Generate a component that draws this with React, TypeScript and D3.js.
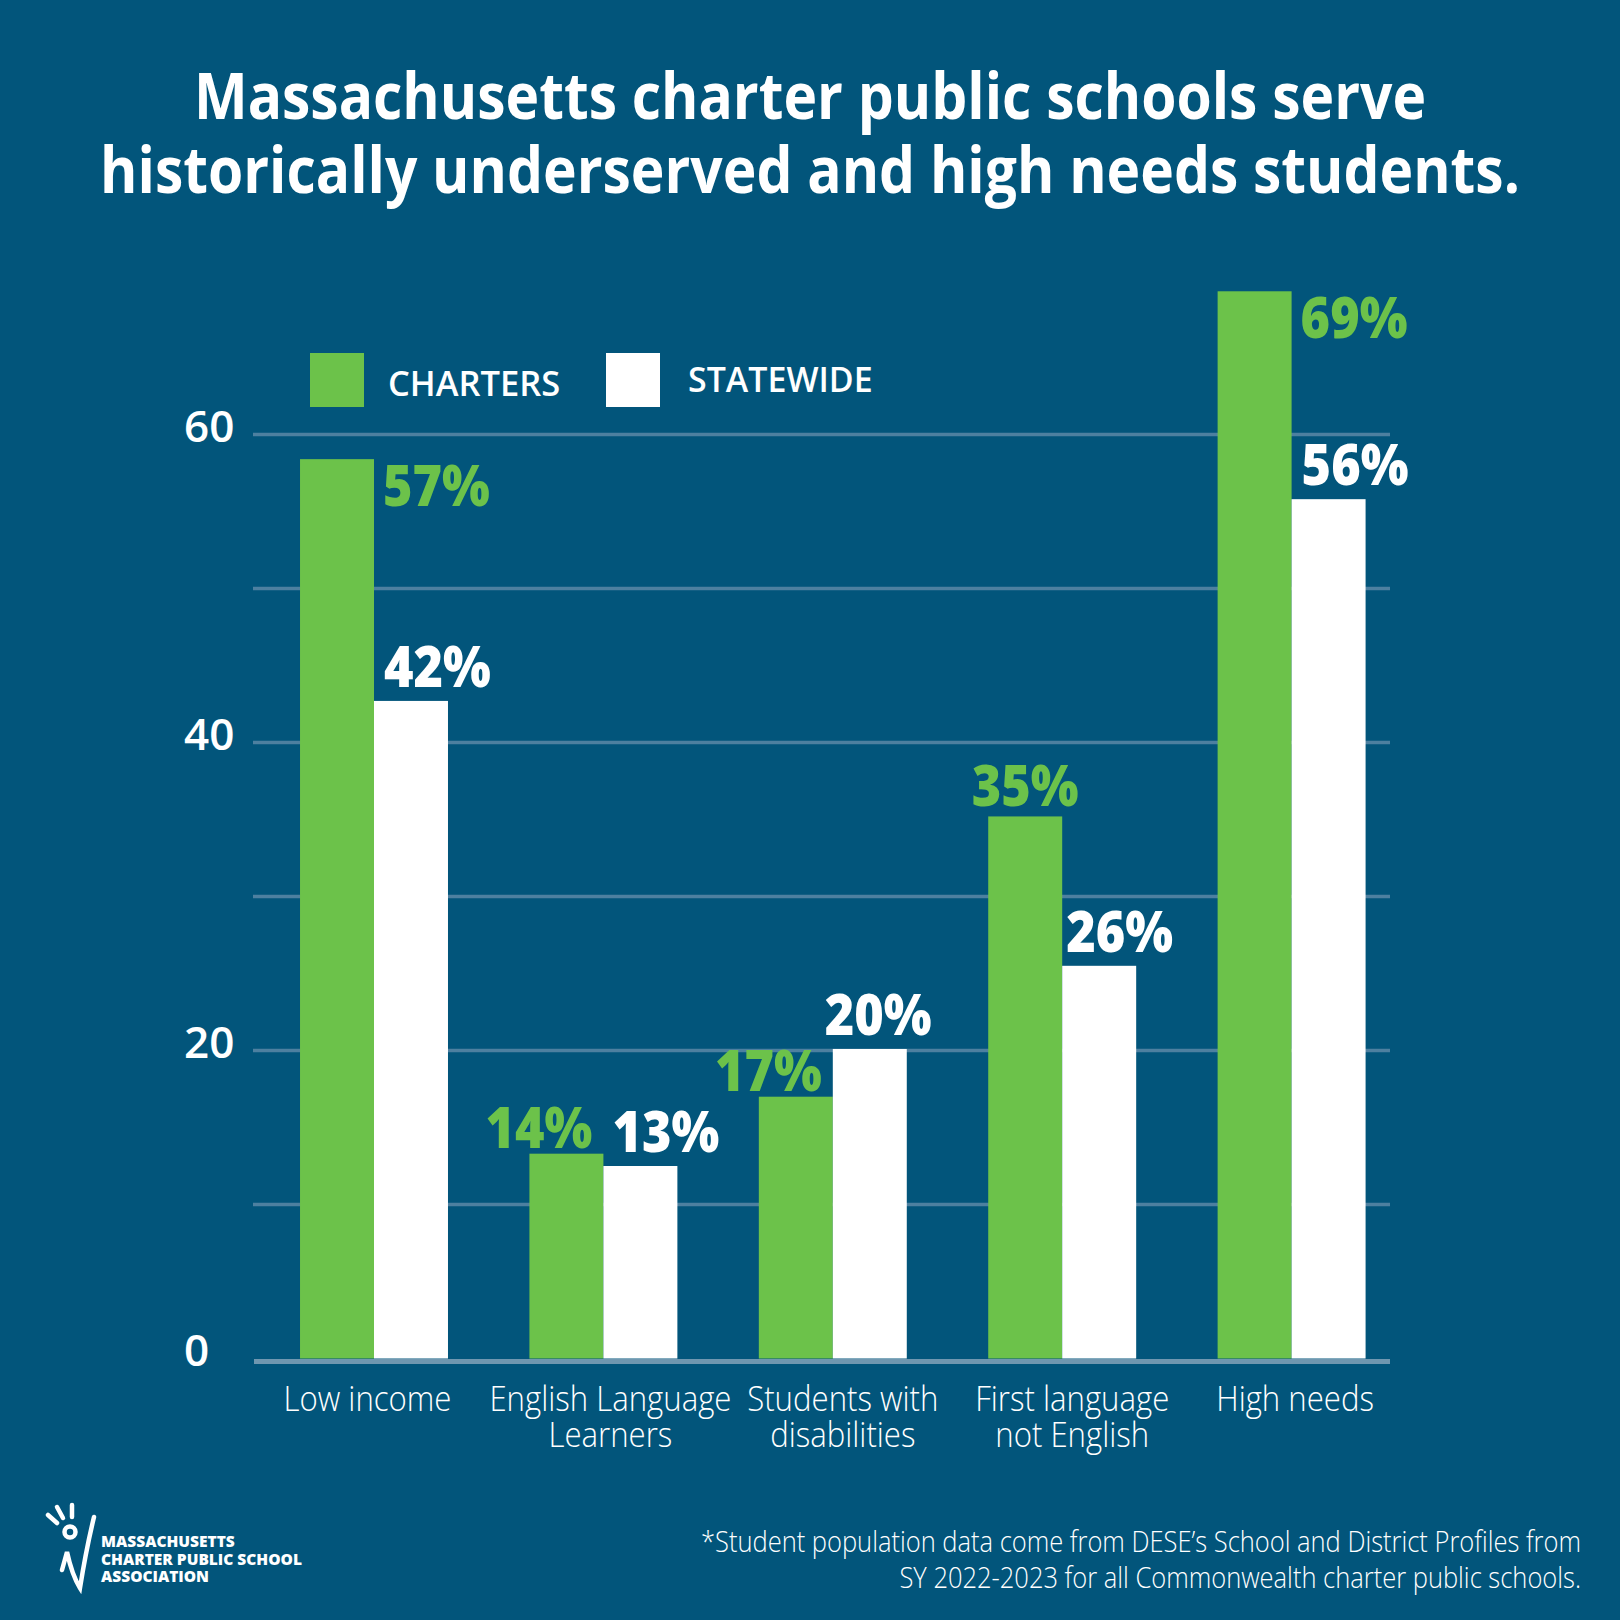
import React from 'react';
import * as d3 from 'd3';

const categories = ['Low income', 'English Language Learners', 'Students with disabilities', 'First language not English', 'High needs'];
const categoryLines = [['Low income'], ['English Language', 'Learners'], ['Students with', 'disabilities'], ['First language', 'not English'], ['High needs']];
const series = ['CHARTERS', 'STATEWIDE'];
const charterValues = [58.4, 13.3, 17.0, 35.2, 69.3];
const statewideValues = [42.7, 12.5, 20.1, 25.5, 55.8];
const charterLabels = ['57%', '14%', '17%', '35%', '69%'];
const statewideLabels = ['42%', '13%', '20%', '26%', '56%'];
const yTickValues = [0, 20, 40, 60];
const gridValues = [10, 20, 30, 40, 50, 60];
const titleLines = ['Massachusetts charter public schools serve', 'historically underserved and high needs students.'];
const footnoteLines = [
  '*Student population data come from DESE\u2019s School and District Profiles from',
  'SY 2022-2023 for all Commonwealth charter public schools.',
];
const logoLines = ['MASSACHUSETTS', 'CHARTER PUBLIC SCHOOL', 'ASSOCIATION'];

const BG = '#02557b';
const GREEN = '#6cc24a';
const GRID = '#4d80a0';
const FONT = '"Open Sans", Lato, sans-serif';

// label placement for the charter / statewide value labels and the category labels
const charterPlace = ['side', 'aboveEnd', 'aboveEnd', 'aboveMid', 'side'];
const statewideDx = [10, 9, -8, 4, 10];
const categoryDx = [-6.5, 7, 10, 10, 3.5];

const W = 1620;
const H = 1620;

export default function App() {
  const y = d3.scaleLinear().domain([0, 60]).range([1358.5, 434.5]);
  const x = d3.scaleBand<string>().domain(categories).range([259.3, 1406.3]).paddingInner(0.355).paddingOuter(0.1775);
  const xs = d3.scaleBand<string>().domain(series).range([0, x.bandwidth()]);
  const bw = xs.bandwidth();

  const valueText = (label: string, tx: number, ty: number, anchor: string, color: string, key: string) => (
    <text
      key={key}
      transform={`translate(${tx},${ty}) scale(0.9,1)`}
      textAnchor={anchor}
      fill={color}
      fontFamily={FONT}
      fontWeight={800}
      fontSize={56}
    >
      {label}
    </text>
  );

  return (
    <svg width={W} height={H} style={{ position: 'absolute', left: 0, top: 0, display: 'block' }}>
      <rect x={0} y={0} width={W} height={H} fill={BG} />

      {/* title */}
      {titleLines.map((t, i) => (
        <text
          key={t}
          transform={`translate(810,${i === 0 ? 119 : 193}) scale(0.89,1)`}
          textAnchor="middle"
          fill="#fff"
          fontFamily={FONT}
          fontWeight={700}
          fontSize={64}
        >
          {t}
        </text>
      ))}

      {/* gridlines */}
      {gridValues.map(v => (
        <line key={v} x1={253} x2={1390} y1={y(v)} y2={y(v)} stroke={GRID} strokeWidth={3.5} />
      ))}

      {/* y tick labels */}
      {yTickValues.map(v => (
        <text key={v} x={184} y={y(v) + 7} fill="#fff" fontFamily={FONT} fontWeight={600} fontSize={44}>
          {v}
        </text>
      ))}

      {/* bars */}
      {categories.map((c, i) => {
        const x0 = x(c) as number;
        const gx = x0 + (xs('CHARTERS') as number);
        const wx = x0 + (xs('STATEWIDE') as number);
        return (
          <g key={c}>
            <rect x={gx} y={y(charterValues[i])} width={bw} height={y(0) - y(charterValues[i])} fill={GREEN} />
            <rect x={wx} y={y(statewideValues[i])} width={bw} height={y(0) - y(statewideValues[i])} fill="#fff" />
          </g>
        );
      })}

      {/* baseline */}
      <line x1={254} x2={1390} y1={y(0) + 3} y2={y(0) + 3} stroke="#6f97b0" strokeWidth={5} />

      {/* value labels */}
      {categories.map((c, i) => {
        const x0 = x(c) as number;
        const gx = x0 + (xs('CHARTERS') as number);
        const wx = x0 + (xs('STATEWIDE') as number);
        const gt = y(charterValues[i]);
        const wt = y(statewideValues[i]);
        const mode = charterPlace[i];
        let cl;
        if (mode === 'side') cl = valueText(charterLabels[i], gx + bw + 9, gt + 47, 'start', GREEN, 'c' + i);
        else if (mode === 'aboveEnd') cl = valueText(charterLabels[i], gx + bw - 11, gt - 6, 'end', GREEN, 'c' + i);
        else cl = valueText(charterLabels[i], gx + bw / 2, gt - 10, 'middle', GREEN, 'c' + i);
        const sl = valueText(statewideLabels[i], wx + statewideDx[i], wt - 14, 'start', '#fff', 's' + i);
        return (
          <g key={c}>
            {cl}
            {sl}
          </g>
        );
      })}

      {/* category labels */}
      {categories.map((c, i) => (
        <g key={c}>
          {categoryLines[i].map((line, j) => (
            <text
              key={line}
              transform={`translate(${(x(c) as number) + x.bandwidth() / 2 + categoryDx[i]},${1411 + j * 36}) scale(0.89,1)`}
              textAnchor="middle"
              fill="#fff"
              fontFamily={FONT}
              fontWeight={300}
              fontSize={35}
            >
              {line}
            </text>
          ))}
        </g>
      ))}

      {/* legend */}
      <rect x={310} y={353} width={54} height={54} fill={GREEN} />
      <text transform="translate(388,396) scale(0.985,1)" fill="#fff" fontFamily={FONT} fontWeight={600} fontSize={35}>
        {series[0]}
      </text>
      <rect x={606} y={353} width={54} height={54} fill="#fff" />
      <text transform="translate(688,392) scale(0.97,1)" fill="#fff" fontFamily={FONT} fontWeight={600} fontSize={35}>
        {series[1]}
      </text>

      {/* footnote */}
      {footnoteLines.map((t, i) => (
        <text
          key={t}
          transform={`translate(1581,${1552 + i * 36}) scale(0.85,1)`}
          textAnchor="end"
          fill="#fff"
          fontFamily={FONT}
          fontWeight={300}
          fontSize={30}
        >
          {t}
        </text>
      ))}

      {/* logo */}
      <g stroke="#fff" strokeWidth={4.5} strokeLinecap="round" fill="none">
        <line x1={48} y1={1515} x2={57} y2={1523} />
        <line x1={57} y1={1507} x2={63} y2={1518} />
        <line x1={72} y1={1505} x2={72} y2={1517} />
        <circle cx={70} cy={1532} r={5.5} />
        <path d="M62,1570 L67,1552 Q72,1575 80,1588 Q86,1550 94,1517" />
      </g>
      {logoLines.map((t, i) => (
        <text key={t} x={101} y={1547 + i * 17.5} fill="#fff" fontFamily={FONT} fontWeight={800} fontSize={15.5}>
          {t}
        </text>
      ))}
    </svg>
  );
}
